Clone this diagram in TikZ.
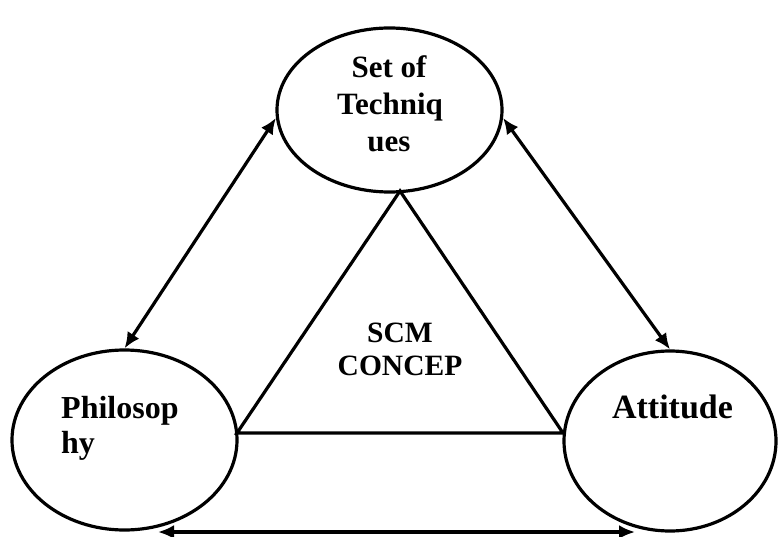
\documentclass[tikz,border=0pt]{standalone}
\usepackage{fontspec}
\setmainfont{Liberation Serif}
\usetikzlibrary{shapes.geometric,arrows.meta}
\begin{document}
\begin{tikzpicture}[x=1pt,y=-1pt,
  bub/.style={draw, ellipse, line width=3.2pt, inner sep=0pt},
  lbl/.style={font=\bfseries\fontsize{#1}{#1}\selectfont, inner sep=0pt},
  link/.style={line width=3.2pt, {Latex[length=16pt,width=14pt]}-{Latex[length=16pt,width=14pt]}},
  tri/.style={line width=3.2pt, line join=miter}]
\useasboundingbox (0,0) rectangle (778,537);
\node[bub, minimum width=225pt, minimum height=164pt] (tech) at (389.5,110) {};
\node[bub, minimum width=225pt, minimum height=180pt] (phil) at (124.5,440) {};
\node[bub, minimum width=212pt, minimum height=180pt] (att) at (670,441) {};
% labels
\node[lbl=31, anchor=base] (t1) at (389,78) {Set of};
\node[lbl=31, anchor=base] (t2) at (390,115) {Techniq};
\node[lbl=31, anchor=base] (t3) at (389,152) {ues};
\node[lbl=32, anchor=base west] (p1) at (61,418) {Philosop};
\node[lbl=32, anchor=base west] (p2) at (61,453) {hy};
\node[lbl=34, anchor=base] (a1) at (672.5,418) {Attitude};
\node[lbl=29.5, anchor=base] (s1) at (400,342) {SCM};
\node[lbl=29.5, anchor=base] (s2) at (400,375) {CONCEP};
% triangle
\coordinate (apex) at (400,191);
\coordinate (bl) at (237,433);
\coordinate (br) at (563,433);
\draw[tri] (apex) -- (bl) -- (br) -- cycle;
% arrows
\draw[link] (tech.184) -- (phil.north);
\draw[link] (tech.-4) -- (att.north);
\coordinate (bL) at (158,532);
\coordinate (bR) at (635,532);
\draw[link] (bL) -- (bR);
\end{tikzpicture}
\end{document}
